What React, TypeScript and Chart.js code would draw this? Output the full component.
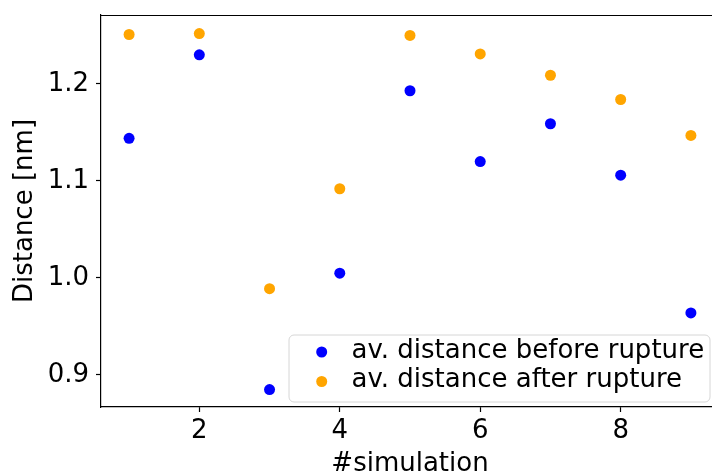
import React, { useEffect, useRef } from "react";
import { Chart, registerables } from "chart.js";

Chart.register(...registerables);

const simulations = [1, 2, 3, 4, 5, 6, 7, 8, 9];
const beforeRupture = [1.144, 1.23, 0.885, 1.005, 1.193, 1.12, 1.159, 1.106, 0.964];
const afterRupture = [1.251, 1.252, 0.989, 1.092, 1.25, 1.231, 1.209, 1.184, 1.147];
const xTicks = [2, 4, 6, 8];
const yTicks = [0.9, 1.0, 1.1, 1.2];
const seriesLabels = ["av. distance before rupture", "av. distance after rupture"];
const seriesColors = ["#0000ff", "#ffa500"];

const FONT = "'DejaVu Sans', sans-serif";
const CANVAS_W = 730;
const CANVAS_H = 480;

const framePlugin = {
  id: "frame",
  afterDraw(chart: any) {
    const { ctx, chartArea } = chart;
    ctx.save();
    // keep the area right of the plot clean (figure is cropped there)
    ctx.fillStyle = "#ffffff";
    ctx.fillRect(chartArea.right - 12, chartArea.top + 1.5, 14, chartArea.bottom - chartArea.top - 2.5);

    ctx.strokeStyle = "#000";
    ctx.lineWidth = 1.2;
    ctx.beginPath();
    ctx.moveTo(chartArea.left, chartArea.top + 0.5);
    ctx.lineTo(chartArea.right, chartArea.top + 0.5);
    ctx.stroke();

    // legend box (lower right, inside axes)
    const right = chartArea.right - 9;
    const left = 289;
    const top = 335;
    const bottom = 402;
    const r = 5;
    ctx.beginPath();
    ctx.moveTo(left + r, top);
    ctx.lineTo(right - r, top);
    ctx.arcTo(right, top, right, top + r, r);
    ctx.lineTo(right, bottom - r);
    ctx.arcTo(right, bottom, right - r, bottom, r);
    ctx.lineTo(left + r, bottom);
    ctx.arcTo(left, bottom, left, bottom - r, r);
    ctx.lineTo(left, top + r);
    ctx.arcTo(left, top, left + r, top, r);
    ctx.closePath();
    ctx.fillStyle = "rgba(255,255,255,0.8)";
    ctx.fill();
    ctx.strokeStyle = "#d6d6d6";
    ctx.lineWidth = 1;
    ctx.stroke();

    const rows = [352, 381.5];
    chart.data.datasets.forEach((ds: any, i: number) => {
      const y = rows[i];
      ctx.beginPath();
      ctx.arc(321.7, y, 5.5, 0, Math.PI * 2);
      ctx.fillStyle = ds.backgroundColor;
      ctx.fill();
      ctx.fillStyle = "#000";
      ctx.font = `26px ${FONT}`;
      ctx.textAlign = "left";
      ctx.textBaseline = "middle";
      ctx.fillText(ds.label, 351.5, y - 1);
    });
    ctx.restore();
  },
};

export default function App() {
  const canvasRef = useRef<HTMLCanvasElement | null>(null);

  useEffect(() => {
    document.body.style.margin = "0";
    document.body.style.overflow = "hidden";
    const canvas = canvasRef.current;
    if (!canvas) return;
    const chart = new Chart(canvas, {
      type: "scatter",
      data: {
        datasets: [
          {
            label: seriesLabels[0],
            data: simulations.map((x, i) => ({ x, y: beforeRupture[i] })),
            backgroundColor: seriesColors[0],
            borderColor: seriesColors[0],
            pointRadius: 5.5,
            pointBorderWidth: 0,
          },
          {
            label: seriesLabels[1],
            data: simulations.map((x, i) => ({ x, y: afterRupture[i] })),
            backgroundColor: seriesColors[1],
            borderColor: seriesColors[1],
            pointRadius: 5.5,
            pointBorderWidth: 0,
          },
        ],
      },
      options: {
        animation: false,
        responsive: false,
        maintainAspectRatio: false,
        layout: { padding: { top: 15, right: 11, left: 0, bottom: 0 } },
        plugins: {
          legend: { display: false },
          tooltip: { enabled: false },
        },
        scales: {
          x: {
            type: "linear",
            min: 0.6,
            max: 9.4,
            afterBuildTicks: (scale: any) => {
              scale.ticks = xTicks.map((v) => ({ value: v }));
            },
            afterFit: (scale: any) => {
              scale.height = CANVAS_H - 407;
              scale.paddingLeft = 0;
              scale.paddingRight = 0;
            },
            grid: {
              drawOnChartArea: false,
              drawTicks: true,
              tickLength: 5,
              tickWidth: 1.2,
              tickColor: "#000",
            },
            border: { display: true, color: "#000", width: 1.2 },
            ticks: {
              color: "#000",
              font: { family: FONT, size: 26 },
              padding: 4,
              maxRotation: 0,
              callback: (v: any) => String(v),
            },
            title: {
              display: true,
              text: "#simulation",
              color: "#000",
              font: { family: FONT, size: 26 },
              padding: 0,
            },
          },
          y: {
            type: "linear",
            min: 0.867,
            max: 1.2711,
            afterBuildTicks: (scale: any) => {
              scale.ticks = yTicks.map((v) => ({ value: v }));
            },
            afterFit: (scale: any) => {
              scale.width = 101;
              scale.paddingTop = 0;
              scale.paddingBottom = 0;
            },
            grid: {
              drawOnChartArea: false,
              drawTicks: true,
              tickLength: 5,
              tickWidth: 1.2,
              tickColor: "#000",
            },
            border: { display: true, color: "#000", width: 1.2 },
            ticks: {
              color: "#000",
              font: { family: FONT, size: 26 },
              padding: 7,
              callback: (v: any) => Number(v).toFixed(1),
            },
            title: {
              display: true,
              text: "Distance [nm]",
              color: "#000",
              font: { family: FONT, size: 26 },
              padding: { top: 10, bottom: 0 },
            },
          },
        },
      },
      plugins: [framePlugin],
    });
    return () => chart.destroy();
  }, []);

  return (
    <div style={{ width: 712, height: 472, overflow: "hidden", position: "relative" }}>
      <canvas
        ref={canvasRef}
        width={CANVAS_W}
        height={CANVAS_H}
        style={{ display: "block", width: CANVAS_W, height: CANVAS_H }}
      />
    </div>
  );
}
